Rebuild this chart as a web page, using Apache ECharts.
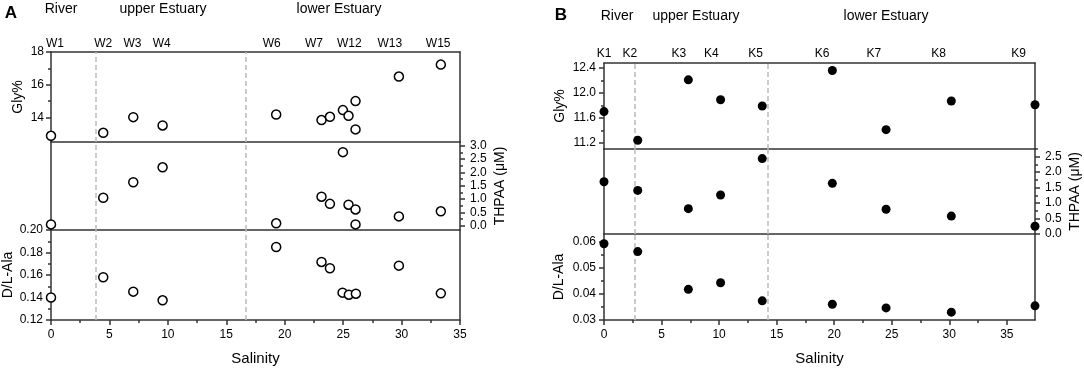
<!DOCTYPE html>
<html><head><meta charset="utf-8">
<script src="https://cdn.jsdelivr.net/npm/echarts@6/dist/echarts.min.js"></script>
<style>html,body{margin:0;padding:0;background:#fff}#c{width:1084px;height:372px}</style>
</head><body><div id="c"></div>
<script>
// ---------- Panel A data (salinity, value) ----------
const salA_gly   = [0, 4.47, 7.04, 9.55, 19.27, 23.15, 23.87, 24.98, 25.46, 26.06, 26.06, 29.77, 33.36];
const glyA       = [12.88, 13.06, 14.02, 13.51, 14.18, 13.84, 14.04, 14.45, 14.1, 15.0, 13.27, 16.5, 17.23];
const salA_thpaa = [0, 4.47, 7.04, 9.55, 19.27, 23.15, 23.87, 24.98, 25.46, 26.06, 26.06, 29.77, 33.36];
const thpaaA     = [0.05, 1.05, 1.63, 2.19, 0.09, 1.09, 0.82, 2.76, 0.79, 0.61, 0.05, 0.35, 0.54];
const salA_dl    = [0, 4.47, 7.04, 9.55, 19.27, 23.15, 23.87, 24.95, 25.49, 26.09, 29.77, 33.36];
const dlA        = [0.140, 0.158, 0.1452, 0.1375, 0.1849, 0.1716, 0.166, 0.1443, 0.1425, 0.1434, 0.1683, 0.1437];
const stationsA    = ['W1','W2','W3','W4','W6','W7','W12','W13','W15'];
const stationPosA  = [0.34, 4.47, 6.97, 9.47, 18.88, 22.5, 25.53, 29.0, 33.13];
const dashA        = [3.85, 16.7];
const regionsA     = ['River','upper Estuary','lower Estuary'];

// ---------- Panel B data ----------
const salB    = [0, 2.93, 7.33, 10.13, 13.75, 19.84, 24.51, 30.18, 37.45];
const glyB    = [11.70, 11.24, 12.21, 11.89, 11.79, 12.36, 11.41, 11.87, 11.81];
const thpaaB  = [1.69, 1.41, 0.82, 1.26, 2.44, 1.64, 0.80, 0.58, 0.25];
const dlB     = [0.0591, 0.0561, 0.0417, 0.0442, 0.0373, 0.0360, 0.0346, 0.0330, 0.0354];
const stationsB   = ['K1','K2','K3','K4','K5','K6','K7','K8','K9'];
const stationPosB = [0, 2.25, 6.51, 9.33, 13.17, 18.96, 23.44, 29.08, 36.02];
const dashB       = [2.63, 14.19];
const regionsB    = ['River','upper Estuary','lower Estuary'];

// ---------- tick labels ----------
const xTicks      = [0,5,10,15,20,25,30,35];
const xMinor      = [2.5,7.5,12.5,17.5,22.5,27.5,32.5];
const glyATicks   = [14,16,18];
const glyAMinor   = [13,15,17];
const thATicks    = [0,0.5,1,1.5,2,2.5,3];
const thAMinor    = [0.25,0.75,1.25,1.75,2.25,2.75];
const dlATicks    = [0.12,0.14,0.16,0.18,0.20];
const dlAMinor    = [0.13,0.15,0.17,0.19];
const glyBTicks   = [11.2,11.6,12.0,12.4];
const glyBMinor   = [11.4,11.8,12.2];
const thBTicks    = [0,0.5,1,1.5,2,2.5];
const thBMinor    = [0.25,0.75,1.25,1.75,2.25,2.75];
const dlBTicks    = [0.03,0.04,0.05,0.06];
const dlBMinor    = [0.035,0.045,0.055];

const FONT = '"Liberation Sans", Arial, sans-serif';
const LINE = {color:'#333', width:1.5};
const grids=[], xAxes=[], yAxes=[], series=[];

function baseAxis(gi,pos,min,max){
  return {type:'value', gridIndex:gi, position:pos, min:min, max:max, splitLine:{show:false},
    axisLine:{show:true,onZero:false,lineStyle:LINE}, axisTick:{show:false}, axisLabel:{show:false}};
}
function labeled(gi,pos,min,max,major,dec,margin,name,nameGap){
  const a=baseAxis(gi,pos,min,max);
  a.axisTick={show:true,inside:false,length:5,lineStyle:LINE,customValues:major};
  a.axisLabel={show:true,customValues:major,margin:margin,color:'#000',fontSize:12,fontFamily:FONT,
    formatter:v=>Number(v).toFixed(dec)};
  if(name){a.name=name;a.nameLocation='middle';a.nameGap=nameGap;
    a.nameTextStyle={fontSize:14,color:'#000',fontFamily:FONT};}
  return a;
}
function minor(gi,pos,min,max,vals){
  const a=baseAxis(gi,pos,min,max);
  a.axisLine={show:false,onZero:false};
  a.axisTick={show:true,inside:false,length:3,lineStyle:LINE,customValues:vals};
  return a;
}
function nameAt(pos,names,v){
  let bi=0,bd=1e9; pos.forEach((p,i)=>{const d=Math.abs(p-v); if(d<bd){bd=d;bi=i;}}); return names[bi];
}
function pairs(xs,ys){return xs.map((x,i)=>[x,ys[i]]);}

function panel(cfg){
  cfg.rows.forEach((r,k)=>{
    const gi=grids.length;
    grids.push({left:cfg.left,top:cfg.tops[k],width:cfg.width,height:cfg.heights[k],containLabel:false});
    let xi;
    if(k===2){
      const xa=labeled(gi,'bottom',0,cfg.xmax,xTicks,0,9,'Salinity',31);
      xa.nameTextStyle={fontSize:15,color:'#000',fontFamily:FONT};
      xi=xAxes.push(xa)-1;
      xAxes.push(minor(gi,'bottom',0,cfg.xmax,xMinor));
    } else {
      xi=xAxes.push(baseAxis(gi,'bottom',0,cfg.xmax))-1;
    }
    if(k===0){
      const ta=baseAxis(gi,'top',0,cfg.xmax);
      ta.axisLabel={show:true,customValues:cfg.stationPos,margin:cfg.stationMargin,color:'#000',fontSize:12,fontFamily:FONT,
        formatter:v=>nameAt(cfg.stationPos,cfg.stations,v)};
      xAxes.push(ta);
    }
    const other = r.side==='left'?'right':'left';
    const yi=yAxes.push(labeled(gi,r.side,r.min,r.max,r.major,r.dec,r.margin,r.name,r.nameGap))-1;
    yAxes.push(minor(gi,r.side,r.min,r.max,r.minor));
    yAxes.push(baseAxis(gi,other,r.min,r.max));
    series.push({type:'scatter',xAxisIndex:xi,yAxisIndex:yi,data:r.data,clip:false,
      symbol:'circle',symbolSize:cfg.symbolSize,itemStyle:cfg.itemStyle,z:5,
      markLine:{silent:true,symbol:['none','none'],label:{show:false},animation:false,
        lineStyle:{color:'#bbb',type:[5,3],width:1.5},data:cfg.dash.map(v=>({xAxis:v}))}});
  });
}

panel({left:51,width:409,tops:[52,142,230],heights:[90,88,90],xmax:35,
  stations:stationsA,stationPos:stationPosA,stationMargin:2,dash:dashA,symbolSize:9,
  itemStyle:{color:'#fff',borderColor:'#000',borderWidth:1.5,opacity:1},
  rows:[
    {min:12.5,max:18,side:'left',major:glyATicks,minor:glyAMinor,dec:0,margin:7,name:'Gly%',nameGap:26,data:pairs(salA_gly,glyA)},
    {min:-0.16,max:3.14,side:'right',major:thATicks,minor:thAMinor,dec:1,margin:10,name:'THPAA (μM)',nameGap:33,data:pairs(salA_thpaa,thpaaA)},
    {min:0.12,max:0.20,side:'left',major:dlATicks,minor:dlAMinor,dec:2,margin:8,name:'D/L-Ala',nameGap:36,data:pairs(salA_dl,dlA)}
  ]});

panel({left:604,width:431,tops:[63,149,234],heights:[86,85,86],xmax:37.45,
  stations:stationsB,stationPos:stationPosB,stationMargin:3,dash:dashB,symbolSize:9,
  itemStyle:{color:'#000',borderColor:'#000',borderWidth:0,opacity:1},
  rows:[
    {min:11.1,max:12.48,side:'left',major:glyBTicks,minor:glyBMinor,dec:1,margin:8,name:'Gly%',nameGap:37,data:pairs(salB,glyB)},
    {min:0,max:2.75,side:'right',major:thBTicks,minor:thBMinor,dec:1,margin:10,name:'THPAA (μM)',nameGap:33,data:pairs(salB,thpaaB)},
    {min:0.03,max:0.0628,side:'left',major:dlBTicks,minor:dlBMinor,dec:2,margin:8,name:'D/L-Ala',nameGap:38,data:pairs(salB,dlB)}
  ]});

function txt(t,x,y,size,bold){
  return {type:'text',x:x,y:y,style:{text:t,x:0,y:0,align:'center',verticalAlign:'middle',
    font:(bold?'bold ':'')+size+'px '+FONT,fill:'#000'}};
}
const graphic=[
  txt('A',11,13,17,true),
  txt(regionsA[0],61,9,14), txt(regionsA[1],163,9,14), txt(regionsA[2],339,9,14),
  txt('B',561,15,17,true),
  txt(regionsB[0],617,16,14), txt(regionsB[1],696,16,14), txt(regionsB[2],886,16,14)
];

const chart=echarts.init(document.getElementById('c'),null,{renderer:'canvas'});
chart.setOption({animation:false,backgroundColor:'#fff',grid:grids,xAxis:xAxes,yAxis:yAxes,series:series,graphic:graphic});
</script></body></html>
